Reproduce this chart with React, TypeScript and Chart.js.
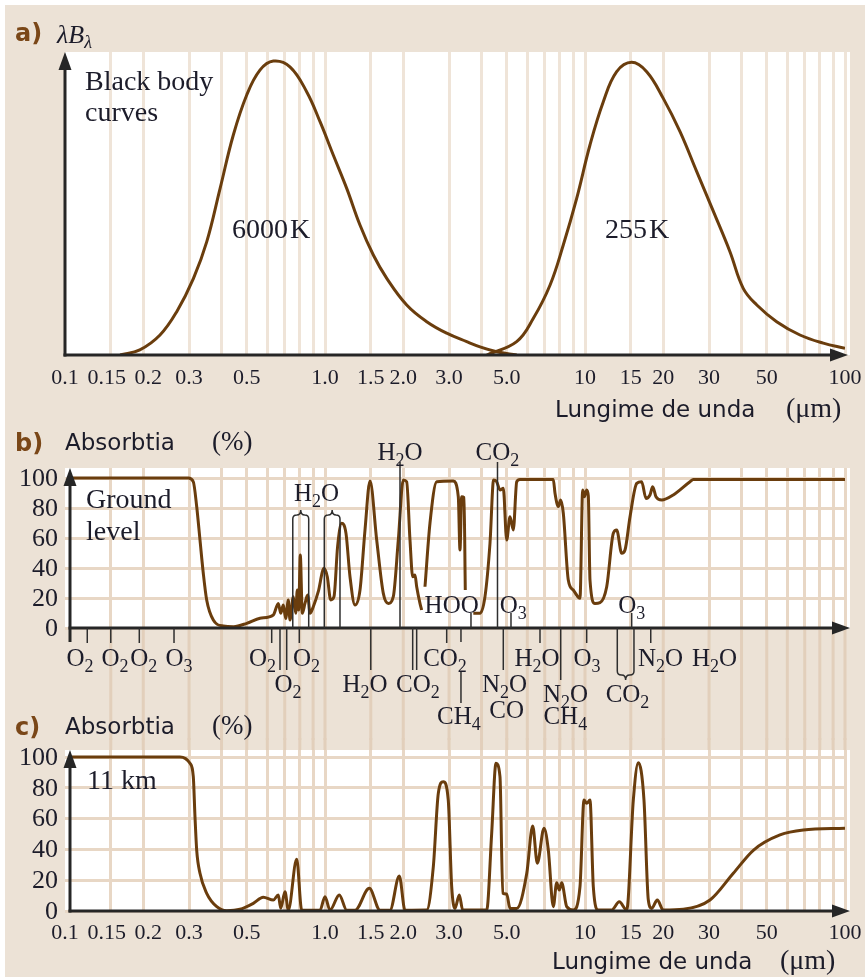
import React, { useEffect, useRef } from 'react';
import { Chart, registerables } from 'chart.js';

Chart.register(...registerables);

const SERIF = '"Liberation Serif", "DejaVu Serif", serif';
const SANS = '"DejaVu Sans", sans-serif';
const BROWN = '#6a3d0d';
const INK = '#1c1c2a';
const AXIS_COLOR = '#262626';
const BEIGE = '#ece2d6';
const GRID_A = '#efe4d8';
const GRID_BC = '#e8d7c5';
const GRID_EXT = '#e2cfbb';
const TITLE_BROWN = '#7a4718';

// ---------- axes ----------
const GRID_X = [0.15, 0.2, 0.3, 0.4, 0.5, 0.6, 0.7, 0.8, 0.9, 1, 1.5, 2, 3, 4, 5, 6, 7, 8, 9, 10, 15, 20, 30, 40, 50, 60, 70, 80, 90, 100];
const TICK_VALUES = [0.1, 0.15, 0.2, 0.3, 0.5, 1, 1.5, 2, 3, 5, 10, 15, 20, 30, 50, 100];
const TICK_LABELS = ['0.1', '0.15', '0.2', '0.3', '0.5', '1.0', '1.5', '2.0', '3.0', '5.0', '10', '15', '20', '30', '50', '100'];
const Y_TICKS = [0, 20, 40, 60, 80, 100];

// ---------- panel a: black body curves (λBλ, relative) ----------
const BB6000_X = [0.163, 0.194, 0.232, 0.269, 0.312, 0.351, 0.395, 0.444, 0.5, 0.562, 0.633, 0.733, 0.85, 0.957, 1.076, 1.212, 1.363, 1.534, 1.728, 2.062, 2.462, 2.938, 3.508, 3.947, 4.576, 5.462];
const BB6000_Y = [0, 1.7, 6.6, 14.3, 25.3, 37.4, 55, 72.6, 85.8, 94, 97, 95.1, 86.9, 77, 66, 55, 42.9, 33, 25.3, 16.5, 11, 7.2, 4.4, 2.7, 1.1, 0];
const BB255_X = [4.19, 5.46, 6.33, 7.34, 8.25, 9.29, 10.45, 11.76, 13.24, 15.12, 17.27, 20.0, 23.2, 26.9, 31.2, 36.1, 40.6, 45.8, 54.6, 67.1, 82.5, 100];
const BB255_Y = [0, 4.4, 12.1, 23.1, 36.3, 51.7, 69.3, 83.6, 93.5, 96.6, 93.5, 84.7, 73.7, 60.5, 47.3, 34.1, 22, 16.5, 11, 6.6, 3.9, 2.2];

// ---------- panel b: absorption at ground level (%) ----------
const GROUND_X = [0.1045, 0.298, 0.3115, 0.321, 0.3305, 0.3403, 0.3507, 0.3719, 0.4063, 0.4451,
  0.5, 0.5624, 0.6327, 0.6613, 0.6756, 0.6913, 0.7062, 0.7226, 0.7335, 0.7552,
  0.7715, 0.7825, 0.7922, 0.8035, 0.8179, 0.8376, 0.8578, 0.8756, 0.9015, 0.942,
  0.9911, 1.0206, 1.0518, 1.0829, 1.118, 1.1588, 1.2043, 1.2478, 1.3043, 1.3634,
  1.425, 1.4897, 1.5807, 1.676, 1.752, 1.831, 1.914, 2.0, 2.061, 2.1225,
  2.174, 2.2186, 2.2524, 2.319, 2.354, 2.39, 2.424, 2.534, 2.6896, 3.115,
  3.256, 3.305, 3.355, 3.424, 3.464, 3.6, 3.719, 3.946, 4.124, 4.311,
  4.451, 4.574, 4.71, 4.85, 4.998, 5.147, 5.3, 5.462, 5.624, 7.552,
  7.667, 7.895, 8.064, 8.252, 8.624, 9.015, 9.566, 9.797, 9.938, 10.15,
  10.297, 10.452, 10.926, 11.42, 12.12, 12.85, 13.24, 13.84, 14.25, 14.9,
  15.81, 16.52, 17.16, 17.78, 18.21, 18.75, 19.73, 21.85, 25.34, 26.1,
  100];
const GROUND_Y = [100, 100, 97.5, 81, 58.7, 36.5, 18.7, 5.3, 1.3, 0.9,
  3.1, 6.5, 8.7, 16.4, 9.8, 15.3, 6.4, 18.7, 5.3, 20.9,
  9.8, 25.3, 12, 48.7, 9.8, 16.4, 22, 9.8, 14.2, 24.2,
  39.8, 34.2, 18.7, 20.9, 54.2, 69.8, 63.1, 34.2, 15.3, 25.3,
  65.3, 98, 58.7, 23.1, 16.4, 20.9, 58.7, 98.7, 97.5, 58.7,
  34.2, 35.3, 27.5, 16.4, 12, null, 27.5, 70, 97.5, 98,
  87.5, 52, 87.5, 87, 25.3, null, 9.8, 9.8, 20.9, 56.5,
  98.7, 97.5, 92, 93.1, 58.7, 74.2, 65.3, 97.5, 99, 99,
  89.8, 81, 85.3, 76.5, 32, 25.3, 19.8, 92, 87.5, 92,
  88, 32, 16.4, 16.9, 27.5, 63.1, 65.3, 49.8, 52, 74.2,
  96.4, 97.5, 86.4, 88.7, 94.2, 87.5, 85.3, 88.7, 97.5, 99,
  99];

// molecule markers, panel b (wavelengths in µm)
const B_UP_LINE_X = [1.943, 4.607, 3.643, 5.192, 15.12];
const B_UP_LINE_LEVEL = [2, 2, 1, 1, 1];
const B_UP_LABEL_X = [1.943, 4.607, 3.071, 5.3, 15.12, 0.927];
const B_UP_LABEL_TEXT = ['H2O', 'CO2', 'HOO', 'O3', 'O3', 'H2O'];
const B_UP_LABEL_LEVEL = [3, 3, 1, 1, 1, 2];
const B_BRACE_UP = [[0.7517, 0.8656], [0.9938, 1.142]];
const B_BRACE_DOWN = [[13.31, 15.43]];
const B_DOWN_TICK_X = [0.1218, 0.15, 0.1931, 0.2626, 0.6237, 0.6713, 0.7124, 0.7965, 1.5, 2.174, 2.252, 2.938, 3.334, 4.85, 6.713, 8.064, 10.15, 17.9];
const B_DOWN_TICK_KIND = [1, 1, 1, 1, 1, 2, 2, 1, 2, 2, 2, 1, 4, 2, 1, 3, 1, 1];
const B_DOWN_LABEL_X = [0.1142, 0.1557, 0.2009, 0.2745, 0.575, 0.7206, 0.849, 1.425, 2.278, 2.894, 3.276, 4.902, 5.0, 6.537, 8.413, 8.4, 10.18, 14.57, 19.52, 31.48];
const B_DOWN_LABEL_TEXT = ['O2', 'O2', 'O2', 'O3', 'O2', 'O2', 'O2', 'H2O', 'CO2', 'CO2', 'CH4', 'N2O', 'CO', 'H2O', 'N2O', 'CH4', 'O3', 'CO2', 'N2O', 'H2O'];
const B_DOWN_LABEL_ROW = [1, 1, 1, 1, 1, 2, 1, 2, 2, 1, 5, 2, 4, 1, 3, 5, 1, 3, 1, 1];

// ---------- panel c: absorption at 11 km (%) ----------
const KM11_X = [0.1061, 0.2769, 0.3025, 0.3115, 0.3162, 0.321, 0.3305, 0.3507, 0.3835, 0.4187,
  0.471, 0.53, 0.5789, 0.6327, 0.6613, 0.6756, 0.7017, 0.7226, 0.7783, 0.8135,
  0.9566, 1.0, 1.0452, 1.135, 1.2129, 1.3043, 1.4806, 1.6277, 1.778, 1.931,
  2.031, 2.461, 2.61, 2.7275, 2.851, 2.979, 3.071, 3.162, 3.285, 3.386,
  4.187, 4.376, 4.546, 4.71, 4.829, 4.998, 5.147, 5.462, 5.971, 6.293,
  6.555, 6.955, 7.226, 7.552, 7.783, 7.964, 8.135, 8.505, 9.015, 9.566,
  9.911, 10.15, 10.452, 10.763, 11.25, 12.65, 13.55, 14.47, 15.34, 16.03,
  16.86, 17.52, 18.05, 18.97, 20.0, 23.88, 30.25, 37.19, 44.51, 56.23,
  69.13, 100];
const KM11_Y = [100, 100, 95.9, 87.2, 61.2, 39.6, 24.5, 11.5, 2.8, 0.2,
  1.1, 5, 8.9, 7.1, 10.4, 1.8, 12.5, 0.6, 33.6, 0.6,
  0.5, 9.3, 0.6, 10.4, 0.5, 0.5, 14.7, 0.5, 0.5, 22.7,
  0.5, 0.6, 28.8, 76.4, 84, 72, 15.8, 1.7, 10.4, 0.6,
  0.6, 50.4, 95.9, 87.2, 11.5, 11, 1.7, 1.7, 24.5, 55.2,
  31, 53.7, 39.6, 2.8, 18.4, 13.6, 18.4, 2.8, 0.6, 15.8,
  72, 69.9, 72, 15.8, 0.6, 0.6, 6, 0.6, 72, 96.3,
  72, 7.1, 1.7, 7.1, 0.6, 1.1, 7.1, 24.5, 39.6, 49.4,
  52.6, 53.7];

// ---------- style maps ----------
const UP_LINE_LEN: Record<number, number> = { 1: 15, 2: 166 };
const UP_LABEL_DY: Record<number, number> = { 1: 23, 2: 135, 3: 176 };
const DOWN_TICK_LEN: Record<number, number> = { 1: 15, 2: 42, 3: 52, 4: 75 };
const DOWN_ROW_DY: Record<number, number> = { 1: 30, 2: 56, 3: 66, 4: 82, 5: 88 };
// small horizontal nudges of crowded tick labels (as typeset in the figure)
const LABEL_NUDGE: Record<string, number> = { '0.15': -4, '0.2': 5 };

type Kind = 'a' | 'b' | 'c';
interface PanelSpec {
  kind: Kind;
  top: number;
  height: number;
  padding: { left: number; right: number; top: number; bottom: number };
  yMax: number;
}

const PANELS: PanelSpec[] = [
  { kind: 'a', top: 0, height: 430, padding: { left: 65, right: 20, top: 52, bottom: 75 }, yMax: 100 },
  { kind: 'b', top: 425, height: 315, padding: { left: 65, right: 20, top: 43, bottom: 112 }, yMax: 106.67 },
  { kind: 'c', top: 700, height: 277, padding: { left: 65, right: 20, top: 50, bottom: 66 }, yMax: 104.55 },
];

function line(ctx: CanvasRenderingContext2D, x1: number, y1: number, x2: number, y2: number) {
  ctx.beginPath();
  ctx.moveTo(x1, y1);
  ctx.lineTo(x2, y2);
  ctx.stroke();
}
function arrowUp(ctx: CanvasRenderingContext2D, x: number, tipY: number) {
  ctx.beginPath();
  ctx.moveTo(x, tipY);
  ctx.lineTo(x - 6.5, tipY + 18);
  ctx.lineTo(x + 6.5, tipY + 18);
  ctx.closePath();
  ctx.fill();
}
function arrowRight(ctx: CanvasRenderingContext2D, tipX: number, y: number) {
  ctx.beginPath();
  ctx.moveTo(tipX, y);
  ctx.lineTo(tipX - 18, y - 6.5);
  ctx.lineTo(tipX - 18, y + 6.5);
  ctx.closePath();
  ctx.fill();
}

function drawFormula(ctx: CanvasRenderingContext2D, text: string, cx: number, cy: number, size: number) {
  const parts: { s: string; sub: boolean }[] = [];
  for (const ch of text) {
    const sub = ch >= '0' && ch <= '9';
    const last = parts[parts.length - 1];
    if (last && last.sub === sub) last.s += ch;
    else parts.push({ s: ch, sub });
  }
  const mainFont = `${size}px ${SERIF}`;
  const subFont = `${Math.round(size * 0.7)}px ${SERIF}`;
  let total = 0;
  const widths = parts.map((p) => {
    ctx.font = p.sub ? subFont : mainFont;
    const w = ctx.measureText(p.s).width;
    total += w;
    return w;
  });
  let x = cx - total / 2;
  const base = cy + size * 0.33;
  ctx.textAlign = 'left';
  ctx.textBaseline = 'alphabetic';
  parts.forEach((p, i) => {
    ctx.font = p.sub ? subFont : mainFont;
    ctx.fillText(p.s, x, p.sub ? base + size * 0.22 : base);
    x += widths[i];
  });
}

function brace(ctx: CanvasRenderingContext2D, a: number, b: number, yEnd: number, dir: number) {
  const yBar = yEnd + dir * 4;
  const yCusp = yEnd + dir * 9;
  const mid = (a + b) / 2;
  ctx.beginPath();
  ctx.moveTo(a, yEnd);
  ctx.quadraticCurveTo(a, yBar, a + 4, yBar);
  ctx.lineTo(mid - 4, yBar);
  ctx.quadraticCurveTo(mid, yBar, mid, yCusp);
  ctx.quadraticCurveTo(mid, yBar, mid + 4, yBar);
  ctx.lineTo(b - 4, yBar);
  ctx.quadraticCurveTo(b, yBar, b, yEnd);
  ctx.stroke();
}

function drawTitle(ctx: CanvasRenderingContext2D, letter: string, baseY: number, withAbs: boolean) {
  ctx.textAlign = 'left';
  ctx.textBaseline = 'alphabetic';
  ctx.fillStyle = TITLE_BROWN;
  ctx.font = `bold 24px ${SANS}`;
  ctx.fillText(letter, 15, baseY);
  ctx.fillStyle = INK;
  if (withAbs) {
    ctx.font = `23px ${SANS}`;
    ctx.fillText('Absorbtia', 65, baseY - 1);
    ctx.font = `27px ${SERIF}`;
    ctx.fillText('(%)', 212, baseY - 1);
  }
}

function drawTickLabels(ctx: CanvasRenderingContext2D, xs: any, cy: number) {
  ctx.font = `22px ${SERIF}`;
  ctx.fillStyle = INK;
  ctx.textAlign = 'center';
  ctx.textBaseline = 'middle';
  TICK_VALUES.forEach((v, i) => {
    const lab = TICK_LABELS[i];
    ctx.fillText(lab, xs.getPixelForValue(v) + (LABEL_NUDGE[lab] || 0), cy);
  });
}

function drawYLabels(ctx: CanvasRenderingContext2D, ys: any) {
  ctx.font = `26px ${SERIF}`;
  ctx.fillStyle = INK;
  ctx.textAlign = 'right';
  ctx.textBaseline = 'middle';
  Y_TICKS.forEach((v) => ctx.fillText(String(v), 58, ys.getPixelForValue(v) + 1));
}

function drawAxisTitle(ctx: CanvasRenderingContext2D, x: number, baseY: number, unitX: number) {
  ctx.fillStyle = INK;
  ctx.textAlign = 'left';
  ctx.textBaseline = 'alphabetic';
  ctx.font = `23px ${SANS}`;
  ctx.fillText('Lungime de unda', x, baseY);
  ctx.font = `28px ${SERIF}`;
  ctx.fillText('(\u03bcm)', unitX, baseY);
}

function panelPlugin(spec: PanelSpec) {
  const py = (Y: number) => Y - spec.top;
  return {
    id: 'panel-' + spec.kind,
    beforeDraw(chart: any) {
      const { ctx, chartArea: ca } = chart;
      const xs = chart.scales.x;
      ctx.save();
      ctx.fillStyle = '#ffffff';
      ctx.fillRect(ca.left, ca.top, ca.right - ca.left + 5, ca.bottom - ca.top);
      ctx.strokeStyle = GRID_EXT;
      ctx.lineWidth = 3;
      if (spec.kind === 'b') {
        GRID_X.forEach((v) => {
          const x = xs.getPixelForValue(v);
          line(ctx, x, ca.bottom + 2, x, chart.height);
        });
      }
      if (spec.kind === 'c') {
        GRID_X.forEach((v) => {
          const x = xs.getPixelForValue(v);
          line(ctx, x, py(738), x, ca.top);
        });
      }
      ctx.restore();
    },
    afterDraw(chart: any) {
      const { ctx, chartArea: ca } = chart;
      const xs = chart.scales.x;
      const ys = chart.scales.y;
      const fx = (v: number) => xs.getPixelForValue(v);
      ctx.save();
      ctx.strokeStyle = AXIS_COLOR;
      ctx.fillStyle = AXIS_COLOR;
      ctx.lineWidth = 3;
      if (spec.kind === 'a') {
        line(ctx, ca.left, ca.bottom + 1.5, ca.left, ca.top + 12);
        arrowUp(ctx, ca.left, ca.top);
        line(ctx, ca.left - 1.5, ca.bottom, ca.right - 8, ca.bottom);
        arrowRight(ctx, ca.right + 3, ca.bottom);
        drawTickLabels(ctx, xs, ca.bottom + 23);
        drawAxisTitle(ctx, 555, py(417), 786);
        drawTitle(ctx, 'a)', py(41), false);
        ctx.fillStyle = INK;
        ctx.font = `italic 26px ${SERIF}`;
        ctx.fillText('\u03bbB', 57, py(43));
        const w = ctx.measureText('\u03bbB').width;
        ctx.font = `italic 18px ${SERIF}`;
        ctx.fillText('\u03bb', 57 + w, py(48));
        ctx.font = `28px ${SERIF}`;
        ctx.fillText('Black body', 85, py(90));
        ctx.fillText('curves', 85, py(121));
        ctx.fillText('6000', 232, py(238));
        ctx.fillText('K', 232 + ctx.measureText('6000').width + 2, py(238));
        ctx.fillText('255', 605, py(238));
        ctx.fillText('K', 605 + ctx.measureText('255').width + 2, py(238));
      } else {
        const ax = ca.left + 5;
        line(ctx, ax, ca.bottom + (spec.kind === 'b' ? 14 : 1.5), ax, ca.top + 12);
        arrowUp(ctx, ax, ca.top);
        line(ctx, ax - 1.5, ca.bottom, ca.right - 8, ca.bottom);
        arrowRight(ctx, ca.right + 5, ca.bottom);
        drawYLabels(ctx, ys);
      }

      if (spec.kind === 'b') {
        const axY = ca.bottom;
        drawTitle(ctx, 'b)', py(451), true);
        ctx.font = `28px ${SERIF}`;
        ctx.fillStyle = INK;
        ctx.textAlign = 'left';
        ctx.textBaseline = 'alphabetic';
        ctx.fillText('Ground', 86, py(508));
        ctx.fillText('level', 86, py(540));

        ctx.strokeStyle = '#2e2e2e';
        ctx.lineWidth = 1.5;
        B_UP_LINE_X.forEach((v, i) => {
          const x = fx(v);
          line(ctx, x, axY, x, axY - UP_LINE_LEN[B_UP_LINE_LEVEL[i]]);
        });
        B_BRACE_UP.forEach(([a, b]) => {
          const pa = fx(a);
          const pb = fx(b);
          line(ctx, pa, axY, pa, axY - 109);
          line(ctx, pb, axY, pb, axY - 109);
          brace(ctx, pa, pb, axY - 109, -1);
        });
        B_BRACE_DOWN.forEach(([a, b]) => {
          const pa = fx(a);
          const pb = fx(b);
          line(ctx, pa, axY, pa, axY + 43);
          line(ctx, pb, axY, pb, axY + 43);
          brace(ctx, pa, pb, axY + 43, 1);
        });
        B_DOWN_TICK_X.forEach((v, i) => {
          const x = fx(v);
          const k = B_DOWN_TICK_KIND[i];
          if (k === 4) {
            line(ctx, x, axY, x, axY + 14);
            line(ctx, x, axY + 44, x, axY + DOWN_TICK_LEN[k]);
          } else {
            line(ctx, x, axY, x, axY + DOWN_TICK_LEN[k]);
          }
        });
        ctx.fillStyle = INK;
        B_UP_LABEL_X.forEach((v, i) => {
          drawFormula(ctx, B_UP_LABEL_TEXT[i], fx(v), axY - UP_LABEL_DY[B_UP_LABEL_LEVEL[i]], 25);
        });
        B_DOWN_LABEL_X.forEach((v, i) => {
          drawFormula(ctx, B_DOWN_LABEL_TEXT[i], fx(v), axY + DOWN_ROW_DY[B_DOWN_LABEL_ROW[i]], 25);
        });
      }

      if (spec.kind === 'c') {
        drawTitle(ctx, 'c)', py(735), true);
        ctx.font = `28px ${SERIF}`;
        ctx.fillStyle = INK;
        ctx.textAlign = 'left';
        ctx.textBaseline = 'alphabetic';
        ctx.fillText('11 km', 87, py(789));
        drawTickLabels(ctx, xs, ca.bottom + 22);
        drawAxisTitle(ctx, 552, py(969), 780);
      }
      ctx.restore();
    },
  };
}

function lineDataset(xs: number[], ys: (number | null)[], smooth: boolean) {
  const base: any = {
    data: xs.map((x, i) => ({ x, y: ys[i] })),
    borderColor: BROWN,
    borderWidth: 3,
    pointRadius: 0,
    fill: false,
    spanGaps: false,
  };
  if (smooth) base.tension = 0.4;
  else base.cubicInterpolationMode = 'monotone';
  return base;
}

function buildConfig(spec: PanelSpec): any {
  const datasets =
    spec.kind === 'a'
      ? [lineDataset(BB6000_X, BB6000_Y, true), lineDataset(BB255_X, BB255_Y, true)]
      : spec.kind === 'b'
      ? [lineDataset(GROUND_X, GROUND_Y, false)]
      : [lineDataset(KM11_X, KM11_Y, false)];
  return {
    type: 'line',
    data: { datasets },
    options: {
      animation: false,
      responsive: false,
      events: [],
      layout: { padding: spec.padding },
      plugins: { legend: { display: false }, tooltip: { enabled: false } },
      scales: {
        x: {
          type: 'logarithmic',
          min: 0.1,
          max: 100,
          afterBuildTicks: (s: any) => {
            s.ticks = GRID_X.map((v) => ({ value: v }));
          },
          afterFit: (s: any) => {
            s.height = 0;
          },
          ticks: { display: false },
          grid: { color: spec.kind === 'a' ? GRID_A : GRID_BC, lineWidth: 3, drawTicks: false },
          border: { display: false },
        },
        y: {
          type: 'linear',
          min: 0,
          max: spec.yMax,
          display: spec.kind !== 'a',
          afterBuildTicks: (s: any) => {
            s.ticks = Y_TICKS.map((v) => ({ value: v }));
          },
          afterFit: (s: any) => {
            s.width = 0;
          },
          ticks: { display: false },
          grid: { color: GRID_BC, lineWidth: 3, drawTicks: false },
          border: { display: false },
        },
      },
    },
    plugins: [panelPlugin(spec)],
  };
}

function Panel({ spec }: { spec: PanelSpec }) {
  const ref = useRef<HTMLCanvasElement>(null);
  useEffect(() => {
    if (!ref.current) return;
    const chart = new Chart(ref.current, buildConfig(spec));
    return () => chart.destroy();
  }, [spec]);
  return (
    <canvas
      ref={ref}
      width={865}
      height={spec.height}
      style={{ position: 'absolute', left: 0, top: spec.top, width: 865, height: spec.height }}
    />
  );
}

export default function App() {
  return (
    <div style={{ position: 'absolute', left: 0, top: 0, width: 865, height: 977, background: '#ffffff', overflow: 'hidden' }}>
      <div style={{ position: 'absolute', left: 5, top: 5, width: 860, height: 972, background: BEIGE }} />
      {PANELS.map((p) => (
        <Panel key={p.kind} spec={p} />
      ))}
    </div>
  );
}
